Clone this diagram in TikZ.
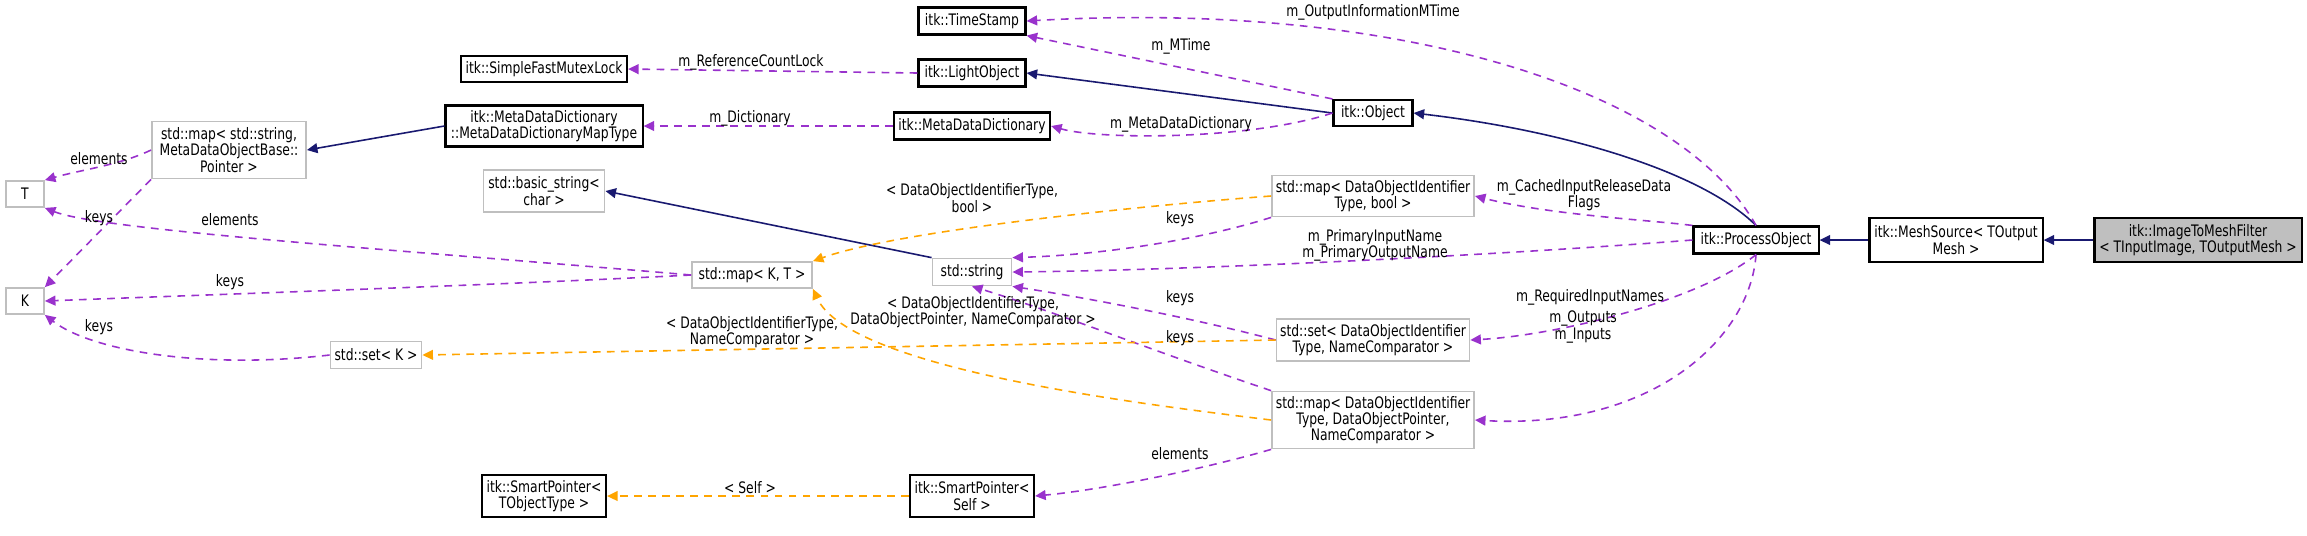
\documentclass[tikz,border=0pt]{standalone}
\usepackage{fontspec}
\newfontfamily\doxfont{DejaVu Sans}[FakeStretch=0.78]
\usetikzlibrary{arrows.meta}
\definecolor{inh}{RGB}{25,25,112}
\definecolor{use}{RGB}{153,50,204}
\definecolor{tmpl}{RGB}{255,165,0}
\definecolor{stdgray}{RGB}{191,191,191}

\begin{document}
\begin{tikzpicture}[x=0.01cm, y=-0.01cm,
    font=\doxfont\fontsize{4.5}{4.6}\selectfont,
    cls/.style={draw=black, line width=0.6pt, inner sep=1pt, align=center},
    std/.style={draw=stdgray, line width=0.5pt, inner sep=1pt, align=center},
    lbl/.style={inner sep=0pt, align=center},
    tip/.style={-{Triangle[length=3pt, width=2.8pt]}},
    base/.style={tip, draw=inh, line width=0.45pt},
    member/.style={tip, draw=use, line width=0.45pt, dash pattern=on 2.2pt off 1.8pt, -{Triangle[length=3pt, width=2.8pt, fill=use]}},
    targ/.style={tip, draw=tmpl, line width=0.45pt, dash pattern=on 2.2pt off 1.8pt, -{Triangle[length=3pt, width=2.8pt, fill=tmpl]}}]
    \useasboundingbox (0,0) rectangle (2307,535);

    % classes
    \node[cls, minimum width=1.07cm, minimum height=0.27cm] (ts) at (972,21) {itk::TimeStamp};
    \node[cls, minimum width=1.07cm, minimum height=0.27cm] (lo) at (972,73) {itk::LightObject};
    \node[cls, minimum width=1.66cm, minimum height=0.26cm] (mutex) at (544,69) {itk::SimpleFastMutexLock};
    \node[cls, minimum width=1.56cm, minimum height=0.27cm] (mdd) at (972,126) {itk::MetaDataDictionary};
    \node[cls, minimum width=1.97cm, minimum height=0.41cm] (mapty) at (544,126) {itk::MetaDataDictionary\\::MetaDataDictionaryMapType};
    \node[cls, minimum width=0.79cm, minimum height=0.26cm] (obj) at (1373,113) {itk::Object};
    \node[std, minimum width=1.54cm, minimum height=0.57cm] (mapstr) at (229,150) {std::map\textless{} std::string,\\MetaDataObjectBase::\\Pointer \textgreater};
    \node[std, minimum width=0.38cm, minimum height=0.26cm] (T) at (25,194) {T};
    \node[std, minimum width=0.38cm, minimum height=0.26cm] (K) at (25,301) {K};
    \node[std, minimum width=1.21cm, minimum height=0.42cm] (bstr) at (544,191) {std::basic\_string\textless\\char \textgreater};
    \node[std, minimum width=1.2cm, minimum height=0.26cm] (mapkt) at (752,275) {std::map\textless{} K, T \textgreater};
    \node[std, minimum width=0.91cm, minimum height=0.27cm] (setk) at (376,355) {std::set\textless{} K \textgreater};
    \node[cls, minimum width=1.24cm, minimum height=0.42cm] (sptobj) at (544,496) {itk::SmartPointer\textless\\TObjectType \textgreater};
    \node[std, minimum width=2.02cm, minimum height=0.41cm] (mapbool) at (1373,196) {std::map\textless{} DataObjectIdentifier\\Type, bool \textgreater};
    \node[std, minimum width=0.79cm, minimum height=0.27cm] (str) at (972,272) {std::string};
    \node[std, minimum width=1.92cm, minimum height=0.42cm] (setnc) at (1373,340) {std::set\textless{} DataObjectIdentifier\\Type, NameComparator \textgreater};
    \node[std, minimum width=2.02cm, minimum height=0.57cm] (mapdop) at (1373,420) {std::map\textless{} DataObjectIdentifier\\Type, DataObjectPointer,\\NameComparator \textgreater};
    \node[cls, minimum width=1.24cm, minimum height=0.42cm] (spself) at (972,496) {itk::SmartPointer\textless\\Self \textgreater};
    \node[cls, minimum width=1.25cm, minimum height=0.27cm] (po) at (1756,240) {itk::ProcessObject};
    \node[cls, minimum width=1.73cm, minimum height=0.44cm] (ms) at (1956,240) {itk::MeshSource\textless{} TOutput\\Mesh \textgreater};
    \node[cls, fill=stdgray, minimum width=2.07cm, minimum height=0.44cm] (itm) at (2198,240) {itk::ImageToMeshFilter\\\textless{} TInputImage, TOutputMesh \textgreater};

    % inheritance
    \draw[base] (itm) -- (ms);
    \draw[base] (ms) -- (po);
    \draw[base] (po.north) .. controls (1700,170) and (1560,130) .. (obj.east);
    \draw[base] (obj.west) -- (lo.east);
    \draw[base] (mapty.west) -- (mapstr.east);
    \draw[base] (str.north west) -- (bstr.east);

    % members
    \draw[member] (lo.west) -- (mutex.east);
    \draw[member] (mdd.west) -- (mapty.east);
    \draw[member] (obj.north west) -- (ts.south east);
    \draw[member] (obj.west) .. controls (1250,140) and (1100,140) .. (mdd.east);
    \draw[member] (po.north) .. controls (1680,90) and (1400,0) .. (ts.east);
    \draw[member] (po.north west) .. controls (1650,220) and (1550,215) .. (mapbool.east);
    \draw[member] (po.west) .. controls (1500,255) and (1200,270) .. (str.east);
    \draw[member] (po.south) .. controls (1700,300) and (1560,335) .. (setnc.east);
    \draw[member] (po.south) .. controls (1750,340) and (1650,430) .. (mapdop.east);
    \draw[member] (mapbool.south west) .. controls (1200,240) and (1100,255) .. (str.north east);
    \draw[member] (setnc.west) .. controls (1200,320) and (1100,300) .. (str.south east);
    \draw[member] (mapdop.north west) .. controls (1150,350) and (1050,310) .. (str.south);
    \draw[member] (mapdop.south west) .. controls (1200,470) and (1100,490) .. (spself.east);
    \draw[member] (mapstr.west) .. controls (120,165) and (80,170) .. (T.north east);
    \draw[member] (mapstr.south west) -- (K.north east);
    \draw[member] (mapkt.west) .. controls (400,250) and (100,230) .. (T.south east);
    \draw[member] (mapkt.west) .. controls (500,285) and (200,295) .. (K.east);
    \draw[member] (setk.west) .. controls (200,370) and (90,350) .. (K.south east);

    % template instances
    \draw[targ] (mapbool.west) .. controls (1150,205) and (900,230) .. (mapkt.north east);
    \draw[targ] (mapdop.west) .. controls (1150,405) and (850,370) .. (mapkt.south east);
    \draw[targ] (setnc.west) -- (setk.east);
    \draw[targ] (spself.west) -- (sptobj.east);

    % labels
    \node[lbl] (lmutex) at (751,62) {m\_ReferenceCountLock};
    \node[lbl] (ldict) at (750,118) {m\_Dictionary};
    \node[lbl] (lmtime) at (1181,46) {m\_MTime};
    \node[lbl] (loimt) at (1373,12) {m\_OutputInformationMTime};
    \node[lbl] (lmdd) at (1181,124) {m\_MetaDataDictionary};
    \node[lbl] (lcache) at (1584,195) {m\_CachedInputReleaseData\\Flags};
    \node[lbl] (lprim) at (1375,245) {m\_PrimaryInputName\\m\_PrimaryOutputName};
    \node[lbl] (lreq) at (1590,297) {m\_RequiredInputNames};
    \node[lbl] (lio) at (1583,327) {m\_Outputs\\m\_Inputs};
    \node[lbl] (lk1) at (1180,219) {keys};
    \node[lbl] (lk2) at (1180,298) {keys};
    \node[lbl] (lk3) at (1180,338) {keys};
    \node[lbl] (lel1) at (1180,454) {elements};
    \node[lbl] (ltb) at (972,198) {\textless{} DataObjectIdentifierType,\\bool \textgreater};
    \node[lbl] (ltdop) at (973,312) {\textless{} DataObjectIdentifierType,\\DataObjectPointer, NameComparator \textgreater};
    \node[lbl] (ltnc) at (752,332) {\textless{} DataObjectIdentifierType,\\NameComparator \textgreater};
    \node[lbl] (ltself) at (750,488) {\textless{} Self \textgreater};
    \node[lbl] (lel2) at (99,159) {elements};
    \node[lbl] (lk4) at (99,218) {keys};
    \node[lbl] (lel3) at (230,220) {elements};
    \node[lbl] (lk5) at (230,282) {keys};
    \node[lbl] (lk6) at (99,327) {keys};
\end{tikzpicture}
\end{document}
